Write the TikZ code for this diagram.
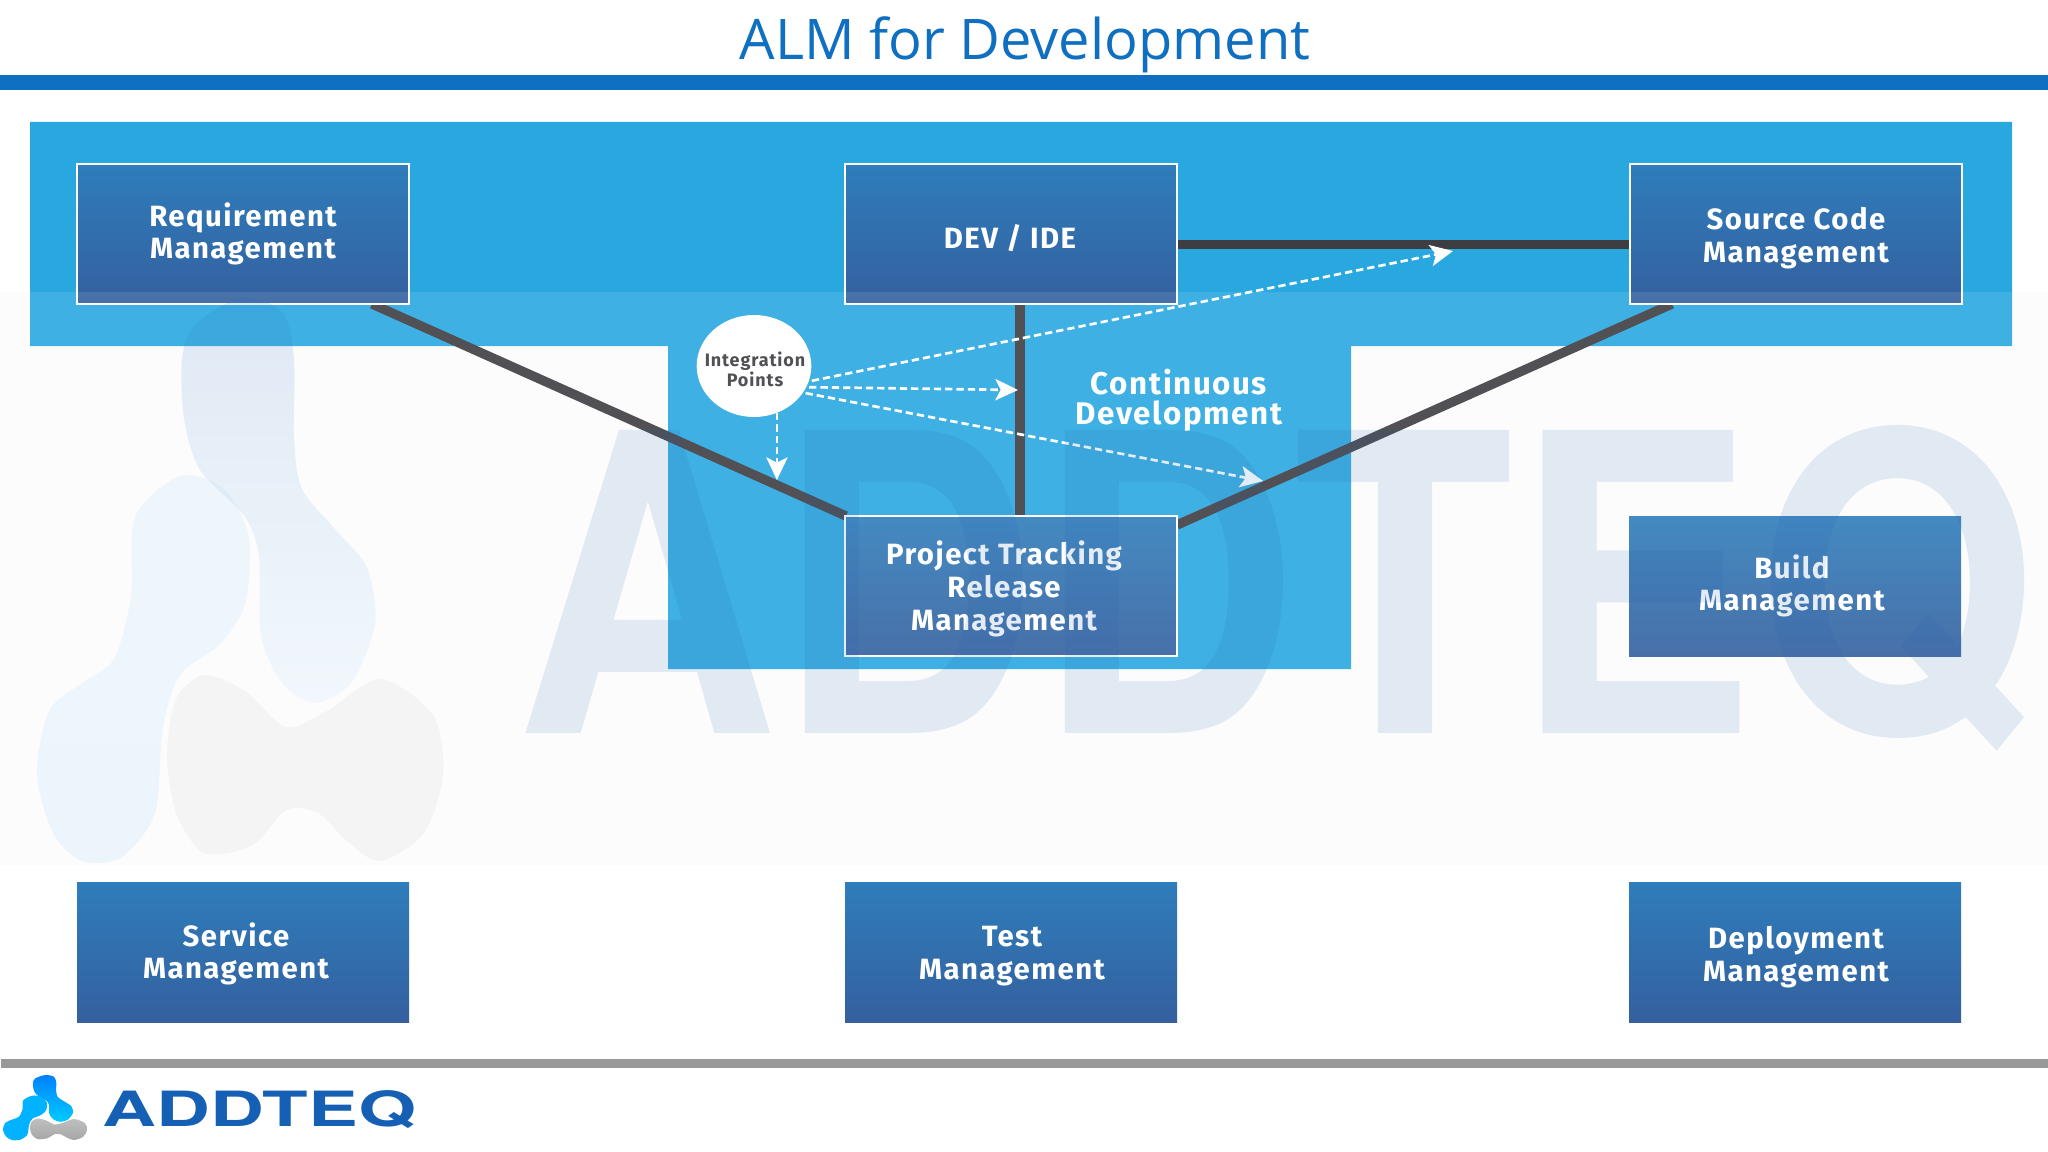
\documentclass[tikz,border=0pt]{standalone}
\usepackage{fontspec}
\usepackage{graphicx}
\usetikzlibrary{arrows.meta,shapes.geometric}
\setmainfont{Open Sans}
\newfontfamily\boxfont[LetterSpace=5]{Fira Sans}
\newfontfamily\logofont{TeX Gyre Heros}
\definecolor{titleblue}{HTML}{0F6FC0}
\definecolor{panelblue}{HTML}{29A8E0}
\definecolor{boxtop}{HTML}{2F7DBB}
\definecolor{boxbottom}{HTML}{34609F}
\definecolor{linkgrey}{HTML}{3E3E42}
\definecolor{bandgrey}{HTML}{FCFCFD}
\definecolor{marktint}{HTML}{1F60B0}
\definecolor{marksky}{HTML}{30A8F0}
\definecolor{footgrey}{HTML}{999999}
\definecolor{logoblue}{HTML}{1560B5}
\tikzset{
  toolbox/.style={rectangle,minimum width=249pt,minimum height=105pt,inner sep=0pt,top color=boxtop,bottom color=boxbottom},
  framed/.style={draw=white,line width=1.5pt},
  boxtext/.style={text=white,align=center,inner sep=0pt,font=\boxfont\bfseries\fontsize{22}{24.5}\selectfont},
  linkline/.style={linkgrey,line width=7pt},
  flowline/.style={draw=white,line width=2pt,dash pattern=on 5.5pt off 3pt,-{Stealth[length=17pt,width=16pt,inset=4pt]}},
  faintmark/.style={fill opacity=.13},
}
\newcommand{\blobupper}[1]{\path[#1] plot[smooth cycle] coordinates {(241,298) (195,325) (182,359) (184,418) (200,470) (245,517) (259,557) (261,636) (282,683) (314,703) (351,683) (375,624) (367,568) (335,529) (302,489) (294,438) (294,359) (282,312)};}
\newcommand{\blobleft}[1]{\path[#1] plot[smooth cycle] coordinates {(180,476) (135,517) (131,596) (114,659) (82,683) (49,711) (37,774) (53,833) (82,861) (122,857) (155,813) (163,727) (180,675) (220,644) (245,604) (249,537) (224,489)};}
\newcommand{\blobgrey}[1]{\path[#1] plot[smooth cycle] coordinates {(204,675) (245,691) (286,727) (327,711) (380,679) (433,715) (443,774) (424,833) (380,861) (347,841) (318,813) (286,810) (253,845) (204,853) (176,813) (167,754) (176,699)};}
\begin{document}
\begin{tikzpicture}[x=0.75pt,y=0.75pt,yscale=-1,xscale=1]
\useasboundingbox (0,0) rectangle (2048,1152);

%header
\node (title) at (1025,45) [text=titleblue,inner sep=0pt,font=\fontsize{42}{48}\selectfont] {ALM for Development};
\fill [titleblue] (0,75) rectangle (2048,90);

%panel
\fill [bandgrey] (0,292) rectangle (2048,865);
\fill [panelblue] (30,122) -- (2012,122) -- (2012,346) -- (1351,346) -- (1351,669) -- (668,669) -- (668,346) -- (30,346) -- cycle;

%connector ends
\coordinate (reqfoot) at (372,304);
\coordinate (projleft) at (846,516);
\coordinate (devfoot) at (1020,304);
\coordinate (projtop) at (1020,516);
\coordinate (devright) at (1177,244);
\coordinate (srcleft) at (1630,244);
\coordinate (srcfoot) at (1672,304);
\coordinate (projright) at (1177,525);

\draw [linkline] (reqfoot) -- (projleft);
\draw [linkline] (devfoot) -- (projtop);
\draw [linkline,line width=6.75pt] (devright) -- (srcleft);
\draw [linkline] (srcfoot) -- (projright);

%boxes
\node (req) at (243,234) [toolbox,framed] {};
\node (dev) at (1011,234) [toolbox,framed] {};
\node (src) at (1796,234) [toolbox,framed] {};
\node (proj) at (1011,586) [toolbox,framed] {};
\node (build) at (1795,586) [toolbox] {};
\node (service) at (243,952) [toolbox] {};
\node (test) at (1011,952) [toolbox] {};
\node (deploy) at (1795,952) [toolbox] {};

\node (reqtext) at (243,234) [boxtext] {Requirement\\Management};
\node (devtext) at (1010,238) [boxtext] {DEV / IDE};
\node (srctext) at (1796,238) [boxtext] {Source Code\\Management};
\node (projtext) at (1004,589) [boxtext] {Project Tracking\\Release\\Management};
\node (buildtext) at (1792,586) [boxtext] {Build\\Management};
\node (cdtext) at (1179,400) [boxtext,font=\boxfont\bfseries\fontsize{23.5}{22.5}\selectfont] {Continuous\\Development};

%integration points
\node (ip) at (754,366) [ellipse,fill=white,minimum width=86pt,minimum height=76.5pt,inner sep=0pt] {};
\node (iptext) at (755,369) [text=linkgrey,align=center,inner sep=0pt,font=\boxfont\bfseries\fontsize{13.5}{13.7}\selectfont] {Integration\\Points};

\coordinate (tipup) at (1453,251);
\coordinate (tipmid) at (1018,390);
\coordinate (tiplow) at (1263,481);
\coordinate (tipdown) at (ip.-64 |- 0,480);

\draw [flowline] ([xshift=2pt]ip.-15) -- (tipup);
\draw [flowline] ([xshift=2pt]ip.-22) -- (tipmid);
\draw [flowline] ([xshift=2pt]ip.-29) -- (tiplow);
\draw [flowline] (ip.-64) -- (tipdown);

%watermark
\fill [white,opacity=.1] (0,292) rectangle (2048,865);
\node (mark) at (516,733) [anchor=base west,inner sep=0pt,text=marktint,opacity=.12] {\resizebox{1138pt}{231pt}{\logofont\bfseries ADDTEQ}};
\blobupper{faintmark,top color=marktint!80!marksky,middle color=marktint!70!violet,bottom color=marksky!40!white}
\blobleft{faintmark,top color=marksky!50!white,middle color=marktint!60!marksky,bottom color=marksky!60!white}
\blobgrey{fill=black,fill opacity=.03}

%lower row sits under the band
\node (servicetext) at (236,954) [boxtext] {Service\\Management};
\node (testtext) at (1012,956) [boxtext] {Test\\Management};
\node (deploytext) at (1796,957) [boxtext] {Deployment\\Management};

%footer
\fill [footgrey] (1,1059) rectangle (2048,1068);
\begin{scope}[shift={(-4.66,1040.6)},xscale=.207,yscale=.1155]
\blobgrey{top color=black!25,bottom color=black!35}
\blobupper{top color=blue!50!cyan,middle color=blue!70!black,bottom color=cyan!80!blue}
\blobleft{top color=cyan!70!blue,middle color=blue!70!cyan,bottom color=cyan!70!blue}
\end{scope}
\node (logo) at (102,1126) [anchor=base west,inner sep=0pt,text=logoblue] {\resizebox{235.5pt}{27pt}{\logofont\bfseries ADDTEQ}};
\end{tikzpicture}
\end{document}
